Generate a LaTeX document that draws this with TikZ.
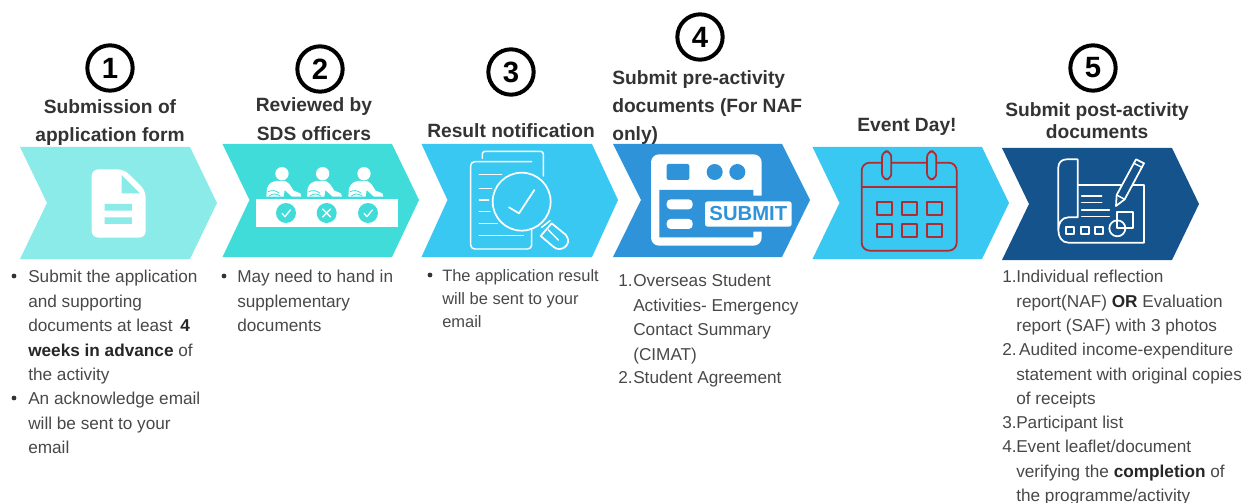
\documentclass[tikz,border=0pt]{standalone}
\usepackage{fontspec}
\setmainfont{Liberation Sans}
\definecolor{cA}{HTML}{8AEBE9}
\definecolor{cB}{HTML}{40DCD9}
\definecolor{cC}{HTML}{38C8F2}
\definecolor{cD}{HTML}{2E93D8}
\definecolor{cE}{HTML}{14538C}
\definecolor{cR}{HTML}{B02A30}
\definecolor{ink}{HTML}{333333}
\definecolor{bodyink}{HTML}{484848}
\tikzset{
 numcircle/.style={circle,draw=black,line width=3pt,minimum size=34pt,inner sep=0pt,font=\fontsize{22}{22}\selectfont\bfseries,text=black},
 heading/.style={align=center,inner sep=0pt,text=ink,font=\fontsize{14.4}{21.5}\selectfont\bfseries},
 body/.style={align=left,anchor=north west,inner sep=0pt,text=bodyink,font=\fontsize{12.9}{18.35}\selectfont},
 bulletdot/.style={circle,fill=ink,minimum size=3.6pt,inner sep=0pt},
 wl/.style={draw=white,line width=1.1pt,line cap=round,line join=round},
 rl/.style={draw=cR,line width=1.3pt,line join=round},
}
\newcommand{\chev}[7]{\fill[#1] (#2,#3)--(#4,#3)--(#5,#7)--(#4,#6)--(#2,#6)--(#2+#5-#4,#7)--cycle;}
\newcommand{\bb}[1]{{\bfseries\color{black!85}#1}}
\begin{document}
\begin{tikzpicture}[x=.75pt,y=-.75pt]
\useasboundingbox (0,0) rectangle (1247,503);
% chevrons
\chev{cA}{20}{147}{190}{217}{259}{203}
\chev{cB}{222.5}{144}{392}{419}{257}{200}
\chev{cC}{421.5}{144}{592}{618}{257}{200}
\chev{cD}{613}{144}{782}{810}{257}{200}
\chev{cC}{812.5}{147}{982}{1009}{259}{203}
\chev{cE}{1002}{148}{1172}{1199}{260}{204}
% numbers
\node[numcircle] (n1) at (110,68) {1};
\node[numcircle] (n2) at (320,69) {2};
\node[numcircle] (n3) at (511,72) {3};
\node[numcircle] (n4) at (700,37) {4};
\node[numcircle] (n5) at (1093,68) {5};
% headings
\node[heading] (h1) at (110,122.5) {Submission of\\application form};
\node[heading] (h2) at (314,119) {Reviewed by\\SDS officers};
\node[heading] (h3) at (511,131) {Result notification};
\node[heading,align=left,anchor=north west,font=\fontsize{14.4}{21}\selectfont\bfseries] (h4) at (612,70) {Submit pre-activity\\documents (For NAF\\only)};
\node[heading] (h5) at (907,127) {Event Day!};
\node[heading,font=\fontsize{14.4}{16.5}\selectfont\bfseries] (h6) at (1097,121) {Submit post-activity\\documents};
% icon 1
\begin{scope}[shift={(0,130)},scale=1/3]
\fill[white,rounded corners=5pt] (275,118)--(372,118)--(437,182)--(437,323)--(275,323)--cycle;
\fill[cA] (365,135)--(365,190)--(420,190)--cycle;
\fill[cA] (314,222) rectangle (396,242) (314,262) rectangle (396,282);
\end{scope}
% icon 2
\begin{scope}[shift={(0,130)},scale=1/3]
\fill[white] (768,206) rectangle (1193,292);
\foreach \c in {858,980,1104}{
 \pgfmathsetmacro{\h}{\c-12}
 \fill[cB] (\c,249) circle (30);
 \fill[white] (\h,131) circle (20);
 \fill[white] (\h-47,200)--(\h-45,175)..controls (\h-40,160) and (\h-30,155) .. (\h-18,153)
   -- (\h+10,153) -- (\h+22,162) -- (\h+35,182) -- (\h+55,190) -- (\h+58,200) -- (\h+30,200) -- (\h+8,180) -- (\h+5,200) -- cycle;
 \draw[cB,line width=.6pt] (\h-42,185)..controls (\h-30,180) and (\h-20,180)..(\h-8,190);
 \draw[cB,line width=.6pt] (\h-38,198)..controls (\h-28,190) and (\h-18,190)..(\h-5,198);
}
\foreach \c in {858,1104}
 \draw[white,line width=1pt,line cap=round,line join=round] (\c-12,250)--(\c-3,260)--(\c+13,240);
\draw[white,line width=1pt,line cap=round] (968,237)--(992,261) (992,237)--(968,261);
\end{scope}
% icon 3
\begin{scope}[shift={(410,130)},scale=1/3]
\draw[wl,rounded corners=2pt] (217,85)--(217,64)--(400,64)--(400,138);
\draw[wl,rounded corners=3pt] (365,95)--(182,95)--(182,357)--(365,357)--(365,300);
\draw[wl] (208,133)--(275,133) (208,175)--(245,175) (208,210)--(236,210) (208,245)--(240,245) (208,281)--(262,281) (208,316)--(340,316);
\draw[wl,line width=1.3pt,fill=cC] (335,215) circle (87);
\draw[wl,line width=1.3pt] (297,232)--(327,250)--(373,180);
\draw[wl] (395,292)--(420,272);
\draw[wl,line width=1.3pt] (392,318)--(425,280)--(468,315)..controls (490,345) and (450,370) .. (430,350)--cycle;
\draw[wl] (415,300)--(445,330);
\end{scope}
% icon 4
\begin{scope}[shift={(410,130)},scale=1/3]
\fill[white,rounded corners=6pt] (723,73) rectangle (1055,347);
\fill[cD,rounded corners=1.5pt] (770,102) rectangle (838,150);
\fill[cD] (914,126) circle (24) (982,126) circle (24);
\fill[cD] (748,180)--(1030,180)--(1030,197)--(1060,197)--(1060,305)--(1030,305)--(1030,322)--(748,322)--cycle;
\fill[white,rounded corners=3pt] (770,208) rectangle (848,238) (770,267) rectangle (848,297);
\node[fill=white,rounded corners=2pt,minimum width=65pt,minimum height=19pt,inner sep=0pt,text=cD,font=\fontsize{15.2}{15}\selectfont\bfseries] (sb) at (1015,252) {SUBMIT};
\end{scope}
% icon 5
\begin{scope}[shift={(800,130)},scale=1/3]
\draw[rl,rounded corners=6pt] (185,98) rectangle (470,362);
\draw[rl] (185,172)--(470,172);
\foreach \x in {260,395}
 \draw[rl,fill=cC,rounded corners=4.5pt] (\x-14,64) rectangle (\x+14,148);
\foreach \x in {231,306,381}\foreach \y in {217,281}
 \draw[rl] (\x,\y) rectangle (\x+44,\y+39);
\end{scope}
% icon 6
\begin{scope}[shift={(800,130)},scale=1/3]
\draw[wl,line width=1.3pt] (833,165)--(1032,165)--(1032,338)--(805,338)..controls (785,338) and (775,320) .. (775,300)--(775,112)..controls (775,98) and (785,88) .. (800,88)--(833,88)--(833,262)--(805,262)..controls (785,262) and (775,280) .. (775,300);
\draw[wl] (845,198)--(905,198) (845,218)--(905,218) (845,240)--(928,240) (845,260)--(928,260);
\draw[wl,line width=1.3pt] (798,290) rectangle (822,312) (842,290) rectangle (866,312) (884,290) rectangle (908,312);
\draw[wl,fill=cE,line width=1.3pt] (950,245) rectangle (1000,295);
\draw[wl,line width=1.3pt] (952,295) circle (24);
\draw[wl,line width=1.3pt,fill=cE] (948,228)--(950,195)--(1008,88)--(1032,100)--(974,208)--cycle;
\draw[wl] (950,195)--(974,208) (1002,100)--(1026,112);
\end{scope}
% body text
\node[bulletdot] (bua) at (14,276) {};
\node[bulletdot] (bub) at (14,398) {};
\node[body] (t1a) at (28,270) {Submit the application\\and supporting\\documents at least \,\bb{4}\\\bb{weeks in advance} of\\the activity};
\node[body] (t1b) at (28,392) {An acknowledge email\\will be sent to your\\email};
\node[bulletdot] (bu2) at (224,276) {};
\node[body] (t2) at (237,270) {May need to hand in\\supplementary\\documents};
\node[bulletdot] (bu3) at (430,275) {};
\node[body,font=\fontsize{12.35}{17.3}\selectfont] (t3) at (442,269.5) {The application result\\will be sent to your\\email};
\node[body] (num41) at (618,274) {1.};
\node[body] (t41) at (633,274) {Overseas Student\\Activities- Emergency\\Contact Summary\\(CIMAT)};
\node[body] (num42) at (618,371) {2.};
\node[body] (t42) at (633,371) {Student Agreement};
\node[body] (num51) at (1002,270) {1.};
\node[body] (t51) at (1016,270) {Individual reflection\\report(NAF) \bb{OR} Evaluation\\report (SAF) with 3 photos};
\node[body] (num52) at (1002,343) {2.};
\node[body] (t52) at (1016,343) {\,Audited income-expenditure\\statement with original copies\\of receipts};
\node[body] (num53) at (1002,416) {3.};
\node[body] (t53) at (1016,416) {Participant list};
\node[body] (num54) at (1002,440) {4.};
\node[body] (t54) at (1016,440) {Event leaflet/document\\verifying the \bb{completion} of\\the programme/activity};
\end{tikzpicture}
\end{document}
